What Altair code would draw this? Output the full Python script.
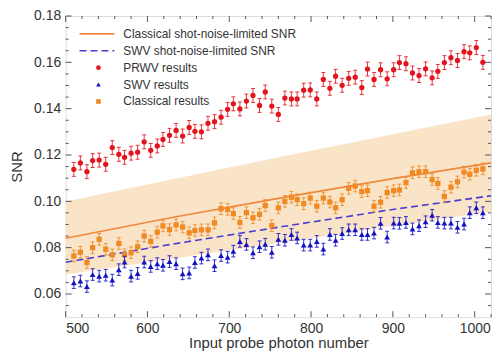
import altair as alt
import pandas as pd

# ---------------- data ----------------
photons = [510, 518, 526, 533, 541, 549, 557, 565, 572, 580, 588, 596, 604, 612, 619, 627,
           635, 643, 651, 658, 666, 674, 682, 690, 698, 705, 713, 721, 729, 737, 744, 752,
           760, 768, 776, 783, 791, 799, 807, 815, 823, 830, 838, 846, 854, 862, 869, 877,
           885, 893, 901, 908, 916, 924, 932, 940, 948, 955, 963, 971, 979, 987, 994, 1002, 1010]

prwv = [0.1138, 0.1166, 0.1128, 0.1176, 0.1178, 0.1160, 0.1232, 0.1203, 0.1190, 0.1208,
        0.1212, 0.1257, 0.1220, 0.1239, 0.1267, 0.1285, 0.1306, 0.1282, 0.1319, 0.1302,
        0.1300, 0.1337, 0.1344, 0.1363, 0.1397, 0.1421, 0.1399, 0.1433, 0.1457, 0.1414,
        0.1472, 0.1411, 0.1375, 0.1446, 0.1442, 0.1442, 0.1480, 0.1481, 0.1442, 0.1526,
        0.1488, 0.1540, 0.1501, 0.1531, 0.1536, 0.1491, 0.1571, 0.1526, 0.1568, 0.1529,
        0.1568, 0.1599, 0.1594, 0.1554, 0.1543, 0.1572, 0.1533, 0.1561, 0.1599, 0.1620,
        0.1608, 0.1646, 0.1641, 0.1664, 0.1600]

swv = [0.0649, 0.0656, 0.0632, 0.0684, 0.0677, 0.0681, 0.0660, 0.0705, 0.0738, 0.0677,
       0.0689, 0.0738, 0.0719, 0.0731, 0.0724, 0.0740, 0.0731, 0.0687, 0.0691, 0.0736,
       0.0755, 0.0769, 0.0722, 0.0766, 0.0759, 0.0785, 0.0827, 0.0814, 0.0778, 0.0804,
       0.0815, 0.0780, 0.0836, 0.0832, 0.0857, 0.0842, 0.0811, 0.0811, 0.0827, 0.0794,
       0.0857, 0.0832, 0.0861, 0.0877, 0.0877, 0.0857, 0.0857, 0.0863, 0.0905, 0.0846,
       0.0906, 0.0905, 0.0909, 0.0881, 0.0895, 0.0912, 0.0940, 0.0909, 0.0906, 0.0906,
       0.0888, 0.0902, 0.0951, 0.0972, 0.0951]

classical = [0.0764, 0.0780, 0.0736, 0.0800, 0.0836, 0.0793, 0.0769, 0.0818, 0.0769, 0.0778,
             0.0804, 0.0850, 0.0827, 0.0867, 0.0894, 0.0878, 0.0898, 0.0889, 0.0864, 0.0874,
             0.0877, 0.0877, 0.0907, 0.0968, 0.0965, 0.0947, 0.0909, 0.0951, 0.0929, 0.0944,
             0.0982, 0.0895, 0.0972, 0.1000, 0.1018, 0.1007, 0.0990, 0.1014, 0.0979, 0.1014,
             0.0997, 0.0972, 0.1007, 0.1056, 0.1066, 0.1042, 0.1046, 0.0979, 0.0996, 0.1038,
             0.1046, 0.1049, 0.1081, 0.1123, 0.1128, 0.1128, 0.1094, 0.1077, 0.1021, 0.1061,
             0.1084, 0.1126, 0.1117, 0.1134, 0.1140]

PRWV_ERR = 0.0030
SWV_ERR = 0.0025
CLASSICAL_ERR = 0.0025

limit_x = [500, 630, 765, 900, 1020]
classical_limit = [0.0841, 0.0930, 0.1016, 0.1098, 0.1166]
swv_limit = [0.0737, 0.0815, 0.0891, 0.0965, 0.1024]

band_x = [500, 760, 1020]
band_low = [0.0684, 0.0820, 0.0955]
band_high = [0.0999, 0.1190, 0.1375]

x_major = [500, 600, 700, 800, 900, 1000]
x_minor = [520, 540, 560, 580, 620, 640, 660, 680, 720, 740, 760, 780,
           820, 840, 860, 880, 920, 940, 960, 980, 1020]
y_major = [0.06, 0.08, 0.10, 0.12, 0.14, 0.16, 0.18]
y_minor = [0.055, 0.065, 0.07, 0.075, 0.085, 0.09, 0.095, 0.105, 0.11, 0.115,
           0.125, 0.13, 0.135, 0.145, 0.15, 0.155, 0.165, 0.17, 0.175]

legend_labels = ["Classical shot-noise-limited SNR", "SWV shot-noise-limited SNR",
                 "PRWV results", "SWV results", "Classical results"]

# ---------------- styling ----------------
W, H = 428, 303
RED = "#e3141c"
BLUE = "#1212c4"
ORANGE = "#f08a24"
BAND = "#f9e4c8"
ORANGE_LINE = "#f0883c"
BLUE_LINE = "#4a3ed0"
TXT = "#333333"
FONT = "Liberation Sans"

xs = alt.Scale(domain=[500, 1020], nice=False, zero=False)
ys = alt.Scale(domain=[0.05, 0.18], nice=False, zero=False)

X_AX = alt.Axis(values=x_major, format="d", ticks=False, grid=False, domain=False,
                labelFont=FONT, labelFontSize=14, labelColor=TXT, labelPadding=4,
                title="Input probe photon number", titleFont=FONT,
                titleFontSize=15, titleFontWeight="normal", titleColor=TXT,
                titlePadding=1)
Y_AX = alt.Axis(values=y_major, format=".2f", ticks=False, grid=False, domain=False,
                labelFont=FONT, labelFontSize=14, labelColor=TXT, labelPadding=5,
                title="SNR", titleFont=FONT, titleFontSize=15,
                titleFontWeight="normal", titleColor=TXT, titlePadding=9)


def X(field):
    return alt.X(field, scale=xs, axis=X_AX)


def Y(field):
    return alt.Y(field, scale=ys, axis=Y_AX)


def series_df(vals, err):
    return pd.DataFrame({"x": photons, "y": vals,
                         "lo": [v - err for v in vals], "hi": [v + err for v in vals]})


band_df = pd.DataFrame({"x": band_x, "lo": band_low, "hi": band_high})
cl_line_df = pd.DataFrame({"x": limit_x, "y": classical_limit})
swv_line_df = pd.DataFrame({"x": limit_x, "y": swv_limit})

band = alt.Chart(band_df).mark_area(color=BAND, opacity=1).encode(
    x=X("x:Q"), y=Y("lo:Q"), y2="hi:Q")

cl_line = alt.Chart(cl_line_df).mark_line(color=ORANGE_LINE, strokeWidth=1.6).encode(
    x=X("x:Q"), y=Y("y:Q"))
swv_line = alt.Chart(swv_line_df).mark_line(color=BLUE_LINE, strokeWidth=1.6,
                                            strokeDash=[7, 4]).encode(
    x=X("x:Q"), y=Y("y:Q"))


def points_layers(df, color, shape, size):
    base = alt.Chart(df)
    bar = base.mark_rule(color=color, strokeWidth=1, opacity=0.85).encode(
        x=X("x:Q"), y=Y("lo:Q"), y2="hi:Q")
    cap_lo = base.mark_tick(color=color, orient="horizontal", size=4, thickness=1,
                            opacity=0.85).encode(x=X("x:Q"), y=Y("lo:Q"))
    cap_hi = base.mark_tick(color=color, orient="horizontal", size=4, thickness=1,
                            opacity=0.85).encode(x=X("x:Q"), y=Y("hi:Q"))
    pts = base.mark_point(shape=shape, filled=True, color=color, size=size,
                          opacity=1).encode(x=X("x:Q"), y=Y("y:Q"))
    return [bar, cap_lo, cap_hi, pts]


layers = [band, cl_line, swv_line]
layers += points_layers(series_df(classical, CLASSICAL_ERR), ORANGE, "square", 28)
layers += points_layers(series_df(swv, SWV_ERR), BLUE, "triangle-up", 34)
layers += points_layers(series_df(prwv, PRWV_ERR), RED, "circle", 28)

# ---------------- legend (drawn inside the plot) ----------------
rows = [18, 35, 52, 69, 86]
leg_dummy = pd.DataFrame({"k": [0]})
layers.append(alt.Chart(leg_dummy).mark_rule(color=ORANGE_LINE, strokeWidth=1.6).encode(
    x=alt.value(14), x2=alt.value(49), y=alt.value(rows[0])))
layers.append(alt.Chart(leg_dummy).mark_rule(color=BLUE_LINE, strokeWidth=1.6,
                                             strokeDash=[7, 4]).encode(
    x=alt.value(14), x2=alt.value(49), y=alt.value(rows[1])))
for r, col, shp in [(rows[2], RED, "circle"), (rows[3], BLUE, "triangle-up"),
                    (rows[4], ORANGE, "square")]:
    layers.append(alt.Chart(leg_dummy).mark_point(shape=shp, filled=True, color=col,
                                                  size=22, opacity=1).encode(
        x=alt.value(33), y=alt.value(r)))
for r, lab in zip(rows, legend_labels):
    layers.append(alt.Chart(leg_dummy).mark_text(align="left", baseline="middle",
                                                 font=FONT, fontSize=12, color=TXT).encode(
        x=alt.value(58), y=alt.value(r), text=alt.value(lab)))

# ---------------- inward ticks on all four sides ----------------
TICK = "#555555"
xmaj = pd.DataFrame({"v": x_major})
xmin = pd.DataFrame({"v": x_minor})
ymaj = pd.DataFrame({"v": y_major})
ymin = pd.DataFrame({"v": y_minor})
for df, ln in [(xmaj, 6), (xmin, 3)]:
    layers.append(alt.Chart(df).mark_rule(color=TICK, strokeWidth=1).encode(
        x=X("v:Q"), y=alt.value(H), y2=alt.value(H - ln)))
    layers.append(alt.Chart(df).mark_rule(color=TICK, strokeWidth=1).encode(
        x=X("v:Q"), y=alt.value(0), y2=alt.value(ln)))
for df, ln in [(ymaj, 6), (ymin, 3)]:
    layers.append(alt.Chart(df).mark_rule(color=TICK, strokeWidth=1).encode(
        y=Y("v:Q"), x=alt.value(0), x2=alt.value(ln)))
    layers.append(alt.Chart(df).mark_rule(color=TICK, strokeWidth=1).encode(
        y=Y("v:Q"), x=alt.value(W), x2=alt.value(W - ln)))

chart = alt.layer(*layers).properties(
    width=W, height=H,
    padding={"left": 1, "right": 0, "top": 0, "bottom": 0},
).configure_view(stroke="#555555", strokeWidth=1).configure(background="white")

chart.save("out.html", embed_options={"renderer": "svg", "actions": False})
